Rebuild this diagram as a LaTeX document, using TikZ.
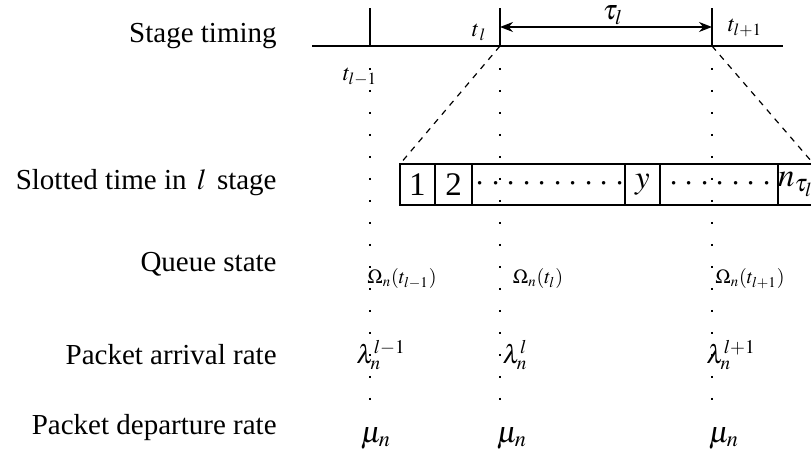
\documentclass[tikz,border=0pt]{standalone}
\usepackage{mathptmx}
\usepackage{fontspec}
\setmainfont{Liberation Serif}
\usetikzlibrary{arrows.meta,positioning}

\newcommand{\slotdots}[1]{\foreach \i in {1,...,#1}{\hspace{1.6pt}${\cdot}$\hspace{1.6pt}}}

\begin{document}
\begin{tikzpicture}[x=0.5pt, y=-0.5pt, font=\fontsize{14.5}{16}\selectfont,
  rowlab/.style={anchor=base east, inner sep=0pt},
  axis/.style={line width=0.6pt},
  arr/.style={{Stealth[length=6.5pt,width=5pt]}-{Stealth[length=6.5pt,width=5pt]}, line width=0.7pt},
  dots/.style={line width=0.9pt, dash pattern=on 0.9pt off 10.1pt},
  zoomline/.style={dashed, line width=0.6pt},
  cell/.style={draw, line width=0.6pt, minimum height=20.5pt, inner sep=0pt, outer sep=0pt, font=\fontsize{16.5}{18}\selectfont},
  val/.style={inner sep=0pt}]
\useasboundingbox (0,0) rectangle (811,458);

% row labels
\node[rowlab] (lStage) at (277,43) {Stage timing};
\node[rowlab] (lSlot) at (277,190) {Slotted time in $\,l\,$ stage};
\node[rowlab] (lQueue) at (277,272) {Queue state};
\node[rowlab] (lArr) at (277,365) {Packet arrival rate};
\node[rowlab] (lDep) at (277,435) {Packet departure rate};

% stage timing axis
\coordinate (axL) at (312,46);
\coordinate (axR) at (783,46);
\coordinate (tPrev) at (370,46);
\coordinate (tCur) at (500,46);
\coordinate (tNext) at (712,46);
\draw[axis] (axL) -- (axR);
\foreach \c in {tPrev,tCur,tNext}
  \draw[axis] (\c) -- ++(0,-38);
\coordinate (arrL) at (500,27);
\coordinate (arrR) at (712,27);
\draw[arr] (arrL) -- (arrR);

\node[val, anchor=south, font=\fontsize{14}{16}\selectfont] (tau) at (613,25) {$\tau_l$};
\node[val, font=\fontsize{11.5}{13}\selectfont] (lbCur) at (479,32) {$t_{\,l}$};
\node[val, font=\fontsize{11.5}{13}\selectfont] (lbNext) at (745,28) {$t_{l+1}$};
\node[val, font=\fontsize{11.5}{13}\selectfont] (lbPrev) at (360,77) {$t_{l-1}$};

% dotted guides
\foreach \c in {tPrev,tCur,tNext}
  \draw[dots] (\c) ++(0,22) -- ++(0,344);

% slotted time
\node[cell, minimum width=17.5pt, anchor=west] (c1) at (400,184.5) {1};
\node[cell, minimum width=18.5pt, right=0pt of c1] (c2) {2};
\node[cell, minimum width=76.5pt, right=0pt of c2] (c3) {\slotdots{10}};
\node[cell, minimum width=17.5pt, right=0pt of c3] (c4) {$y$};
\node[cell, minimum width=59pt, right=0pt of c4] (c5) {\slotdots{7}};
\node[cell, minimum width=16pt, right=0pt of c5] (c6) {$n_{\tau_l}$};
\draw[zoomline] (tCur) -- (c1.north west);
\draw[zoomline] (tNext) -- (c6.north east);

% queue state
\node[val, font=\fontsize{10}{11}\selectfont] (qPrev) at (402,279) {$\Omega_n(t_{l-1})$};
\node[val, font=\fontsize{10}{11}\selectfont] (qCur) at (538,279) {$\Omega_n(t_l)$};
\node[val, font=\fontsize{10}{11}\selectfont] (qNext) at (750,279) {$\Omega_n(t_{l+1})$};

% arrival rate
\node[val, font=\fontsize{13}{15}\selectfont] (aPrev) at (381,355) {$\lambda_n^{l-1}$};
\node[val, font=\fontsize{13}{15}\selectfont] (aCur) at (515,355) {$\lambda_n^{l}$};
\node[val, font=\fontsize{13}{15}\selectfont] (aNext) at (731,355) {$\lambda_n^{l+1}$};

% departure rate
\node[val, font=\fontsize{15}{17}\selectfont] (dPrev) at (376,438) {$\mu_n$};
\node[val, font=\fontsize{15}{17}\selectfont] (dCur) at (512,438) {$\mu_n$};
\node[val, font=\fontsize{15}{17}\selectfont] (dNext) at (724,438) {$\mu_n$};
\end{tikzpicture}
\end{document}
